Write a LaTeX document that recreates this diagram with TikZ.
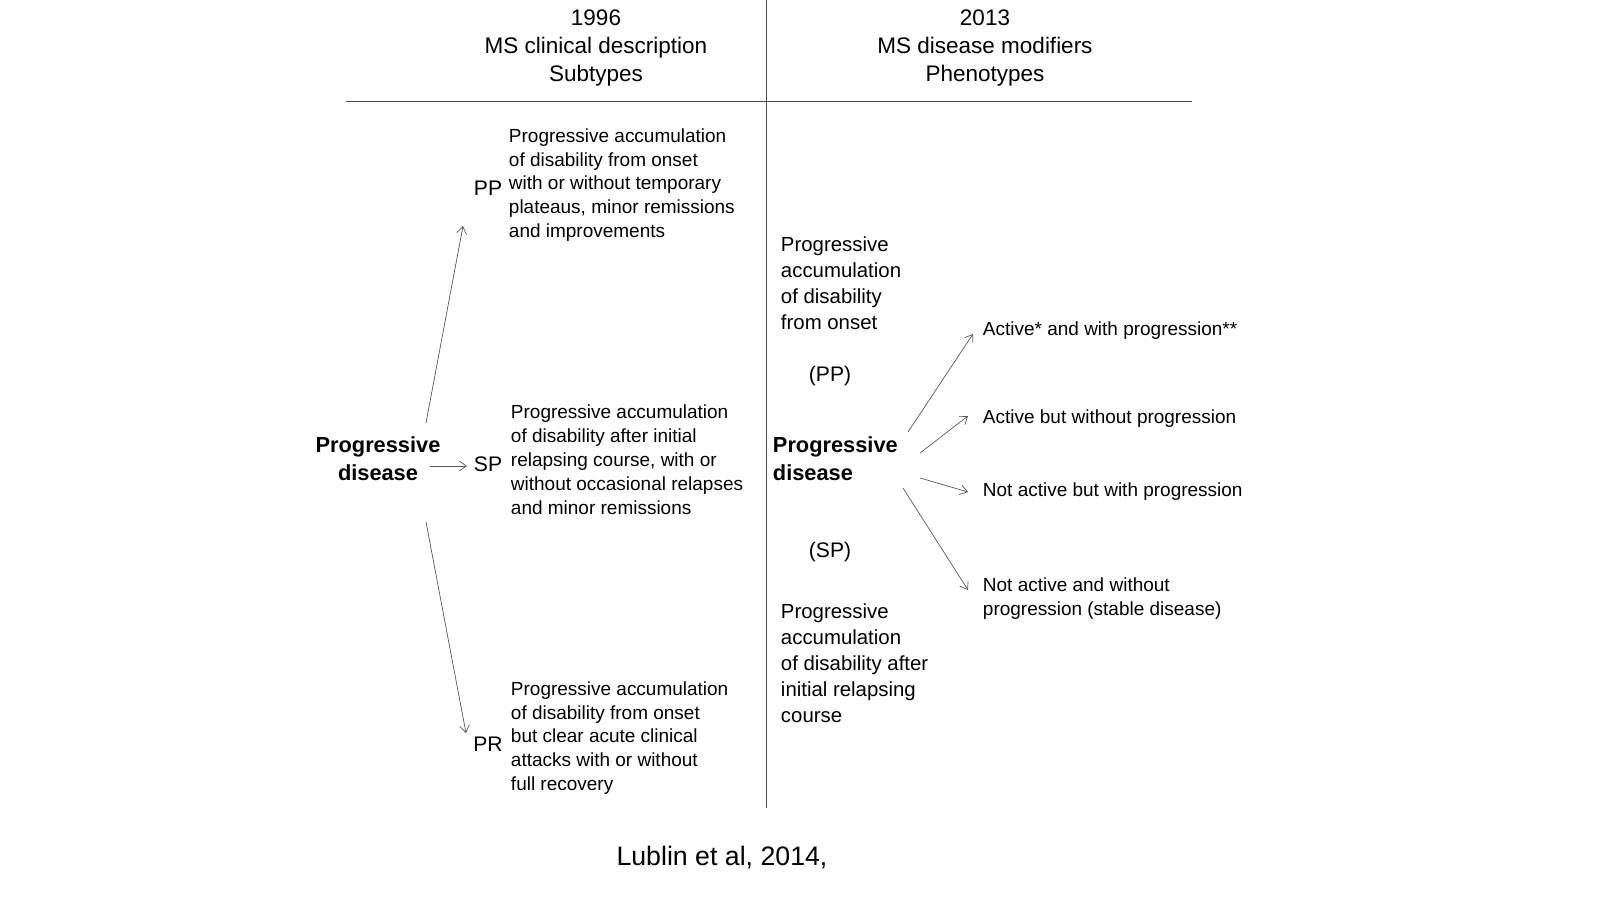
\documentclass[tikz,border=0pt]{standalone}
\usepackage{fontspec}
\setmainfont{Liberation Sans}
\usetikzlibrary{arrows.meta,positioning}

\begin{document}
\begin{tikzpicture}[
        x=0.025cm, y=-0.025cm,
        head/.style={align=center, font=\fontsize{16}{20}\selectfont},
        desc/.style={anchor=west, align=left, font=\fontsize{13.5}{17}\selectfont},
        rdesc/.style={anchor=west, align=left, font=\fontsize{14.5}{18.5}\selectfont},
        lab/.style={font=\fontsize{15}{18}\selectfont},
        hub/.style={align=center, font=\fontsize{15.5}{20}\selectfont\bfseries},
        arrow/.style={-{Straight Barb[length=5pt,width=7pt]}, line width=0.5pt, gray!70!black}
    ]
        \useasboundingbox (0,0) rectangle (1600,900);

        % Headers
        \node[head] (h1996) at (596,48) {1996\\MS clinical description\\Subtypes};
        \node[head] (h2013) at (985,48) {2013\\MS disease modifiers\\Phenotypes};
        \coordinate (ruleL) at (346,101);
        \coordinate (ruleR) at (1192,101);
        \coordinate (colT) at (766,0);
        \coordinate (colB) at (766,808);
        \draw[gray!60!black, line width=0.6pt] (ruleL) -- (ruleR);
        \draw[gray!60!black, line width=0.6pt] (colT) -- (colB);

        % 1996 side
        \node[hub] (pdL) at (378,459) {Progressive\\disease};
        \node[lab] (pp) at (488,188) {PP};
        \node[lab] (sp) at (488,464) {SP};
        \node[lab] (pr) at (488,744) {PR};
        \node[desc] (ppT) at (504,185) {Progressive accumulation\\of disability from onset\\with or without temporary\\plateaus, minor remissions\\and improvements};
        \node[desc] (spT) at (506,460) {Progressive accumulation\\of disability after initial\\relapsing course, with or\\without occasional relapses\\and minor remissions};
        \node[desc] (prT) at (506,738) {Progressive accumulation\\of disability from onset\\but clear acute clinical\\attacks with or without\\full recovery};

        \coordinate (a1s) at (426,423); \coordinate (a1e) at (463,226);
        \coordinate (a2s) at (430,466); \coordinate (a2e) at (467,466);
        \coordinate (a3s) at (426,522); \coordinate (a3e) at (466,733);
        \draw[arrow] (a1s) -- (a1e);
        \draw[arrow] (a2s) -- (a2e);
        \draw[arrow] (a3s) -- (a3e);

        % 2013 side
        \node[rdesc] (ppR) at (776,283) {Progressive\\accumulation\\of disability\\from onset};
        \node[lab] (ppTag) at (830,376) {(PP)};
        \node[hub, align=left, anchor=west] (pdR) at (768,459) {Progressive\\disease};
        \node[lab] (spTag) at (830,552) {(SP)};
        \node[rdesc] (spR) at (776,663) {Progressive\\accumulation\\of disability after\\initial relapsing\\course};

        \node[desc] (act1) at (978,331) {Active* and with progression**};
        \node[desc] (act2) at (978,419) {Active but without progression};
        \node[desc] (act3) at (978,492) {Not active but with progression};
        \node[desc] (act4) at (978,599) {Not active and without\\progression (stable disease)};

        \coordinate (b1s) at (908,432); \coordinate (b1e) at (973,334);
        \coordinate (b2s) at (920,453); \coordinate (b2e) at (968,416);
        \coordinate (b3s) at (920,478); \coordinate (b3e) at (968,492);
        \coordinate (b4s) at (903,488); \coordinate (b4e) at (968,590);
        \draw[arrow] (b1s) -- (b1e);
        \draw[arrow] (b2s) -- (b2e);
        \draw[arrow] (b3s) -- (b3e);
        \draw[arrow] (b4s) -- (b4e);

        % Source
        \node[font=\fontsize{19}{22}\selectfont] (cite) at (722,858) {Lublin et al, 2014,};
    \end{tikzpicture}
\end{document}
